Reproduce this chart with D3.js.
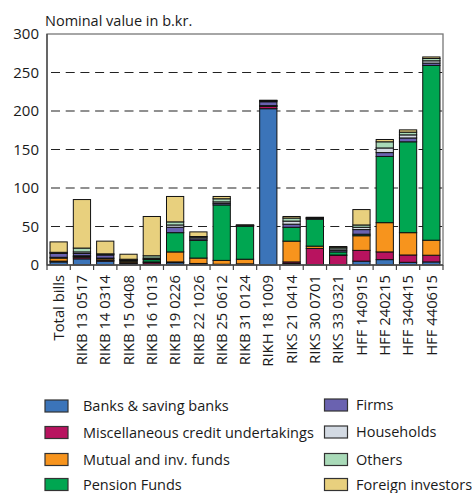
<!DOCTYPE html>
<html><head><meta charset="utf-8">
<script src="https://cdn.jsdelivr.net/npm/d3@7"></script>
<style>body{margin:0;background:#fff}svg{display:block}text{font-family:"Open Sans",sans-serif;fill:#1a1a1a}</style>
</head><body>
<script>
const categories = ["Total bills","RIKB 13 0517","RIKB 14 0314","RIKB 15 0408","RIKB 16 1013","RIKB 19 0226","RIKB 22 1026","RIKB 25 0612","RIKB 31 0124","RIKH 18 1009","RIKS 21 0414","RIKS 30 0701","RIKS 33 0321","HFF 140915","HFF 240215","HFF 340415","HFF 440615"];
const seriesNames = ["Banks & saving banks","Miscellaneous credit undertakings","Mutual and inv. funds","Pension Funds","Firms","Households","Others","Foreign investors"];
const seriesColors = ["#3b74b9","#b8135f","#f7941d","#00a651","#6a62b0","#d3dae3","#a9dab8","#e8d07e"];
const banks     = [4, 8, 5, 2, 1, 3, 1, 0.5, 0.5, 203, 2, 0.5, 0.5, 5, 7, 3.5, 4];
const misc      = [1, 2, 1, 1, 2, 1, 1, 0.5, 1, 3, 2, 21, 12, 14, 10, 9.5, 8.7];
const mutual    = [4, 1, 2, 2, 1, 13, 7, 5, 6, 0.5, 27, 3, 0.5, 19, 38, 29, 19.5];
const pension   = [1, 1, 1, 0.5, 3, 25, 23, 72, 43, 0.5, 18, 35, 4, 2, 86, 118, 227];
const firms     = [5, 3, 4, 1, 1, 7, 2, 2, 0.5, 5, 4, 1, 2, 6, 5, 5, 3];
const households= [1, 2, 1, 0.5, 1, 3, 2, 2, 0.5, 1, 4, 0.5, 2, 3, 6, 4, 3];
const others    = [0.5, 5, 0.5, 0.5, 3, 4, 1, 4, 0.3, 0.5, 4, 0.5, 2, 3, 8, 3.5, 3];
const foreign   = [13.5, 63, 16.5, 6.5, 51, 33, 6, 3, 0.2, 0.5, 2, 0.5, 1, 20, 3, 3, 2];
const yTicks = [0, 50, 100, 150, 200, 250, 300];
const yTitle = "Nominal value in b.kr.";

const seriesValues = [banks, misc, mutual, pension, firms, households, others, foreign];
const keys = seriesNames;
const rows = categories.map((c, i) => {
  const r = {cat: c};
  keys.forEach((k, j) => r[k] = seriesValues[j][i]);
  return r;
});

const W = 472, H = 493;
const m = {left: 47, right: 29, top: 34, bottom: 228};
const svg = d3.select("body").append("svg").attr("width", W).attr("height", H);

const x = d3.scaleBand().domain(categories).range([m.left, W - m.right]).paddingInner(0.26).paddingOuter(0.13);
const y = d3.scaleLinear().domain([0, 300]).range([H - m.bottom, m.top]);
const x0 = m.left, x1 = W - m.right, yb = y(0), yt = y(300);

// gridlines
svg.append("g").selectAll("line").data(yTicks.filter(d => d > 0 && d < 300)).join("line")
  .attr("x1", x0).attr("x2", x1).attr("y1", d => y(d)).attr("y2", d => y(d))
  .attr("stroke", "#222").attr("stroke-width", 1.2).attr("stroke-dasharray", "9,5.7").attr("stroke-dashoffset", -4);

// stacked bars
const stack = d3.stack().keys(keys)(rows);
svg.append("g").selectAll("g").data(stack).join("g")
  .attr("fill", (d, i) => seriesColors[i])
  .selectAll("rect").data(d => d).join("rect")
  .attr("x", d => x(d.data.cat)).attr("width", x.bandwidth())
  .attr("y", d => y(d[1])).attr("height", d => y(d[0]) - y(d[1]))
  .attr("stroke", "#111").attr("stroke-width", 1);

// frame
svg.append("rect").attr("x", x0).attr("y", yt).attr("width", x1 - x0).attr("height", yb - yt)
  .attr("fill", "none").attr("stroke", "#777").attr("stroke-width", 1.3);
svg.append("line").attr("x1", x0).attr("x2", x0).attr("y1", yt).attr("y2", yb).attr("stroke", "#444").attr("stroke-width", 1.3);
svg.append("line").attr("x1", x0).attr("x2", x1).attr("y1", yb).attr("y2", yb).attr("stroke", "#444").attr("stroke-width", 1.3);

// x ticks at band boundaries
const bounds = d3.range(categories.length + 1).map(i => x0 + i * (x1 - x0) / categories.length);
svg.append("g").selectAll("line").data(bounds).join("line")
  .attr("x1", d => d).attr("x2", d => d).attr("y1", yb).attr("y2", yb + 5)
  .attr("stroke", "#444").attr("stroke-width", 1.2);

// y axis labels
const yAxis = d3.axisLeft(y).tickValues(yTicks).tickSize(0).tickPadding(8);
const ya = svg.append("g").attr("transform", `translate(${x0},0)`).call(yAxis);
ya.select(".domain").remove();
ya.selectAll("text").style("font-size", "15px").style("font-family", '"Open Sans",sans-serif').attr("fill", "#1a1a1a");

// x labels
const xAxis = d3.axisBottom(x).tickSize(0).tickPadding(0);
const xa = svg.append("g").attr("transform", `translate(0,${yb})`).call(xAxis);
xa.select(".domain").remove();
xa.selectAll("text").style("font-size", "14.8px").style("font-family", '"Open Sans",sans-serif').attr("fill", "#1a1a1a")
  .attr("transform", "rotate(-90)").attr("text-anchor", "end").attr("dy", "0.35em").attr("x", -10).attr("y", 0);

// title
svg.append("text").attr("x", 45).attr("y", 26).style("font-size", "14.5px").text(yTitle);

// legend
const legendPos = [[45, 406], [45, 432.5], [45, 459.5], [45, 484.5], [324.5, 405], [324.5, 432], [324.5, 459.5], [324.5, 484.5]];
const lg = svg.append("g").selectAll("g").data(seriesNames).join("g")
  .attr("transform", (d, i) => `translate(${legendPos[i][0]},${legendPos[i][1]})`);
lg.append("rect").attr("x", 0).attr("y", -6).attr("width", 23).attr("height", 12)
  .attr("fill", (d, i) => seriesColors[i]).attr("stroke", "#333").attr("stroke-width", 1.2);
lg.append("text").attr("x", (d, i) => i < 4 ? 38 : 31.5).attr("dy", "0.35em").style("font-size", "14.5px").text(d => d);
</script>
</body></html>
